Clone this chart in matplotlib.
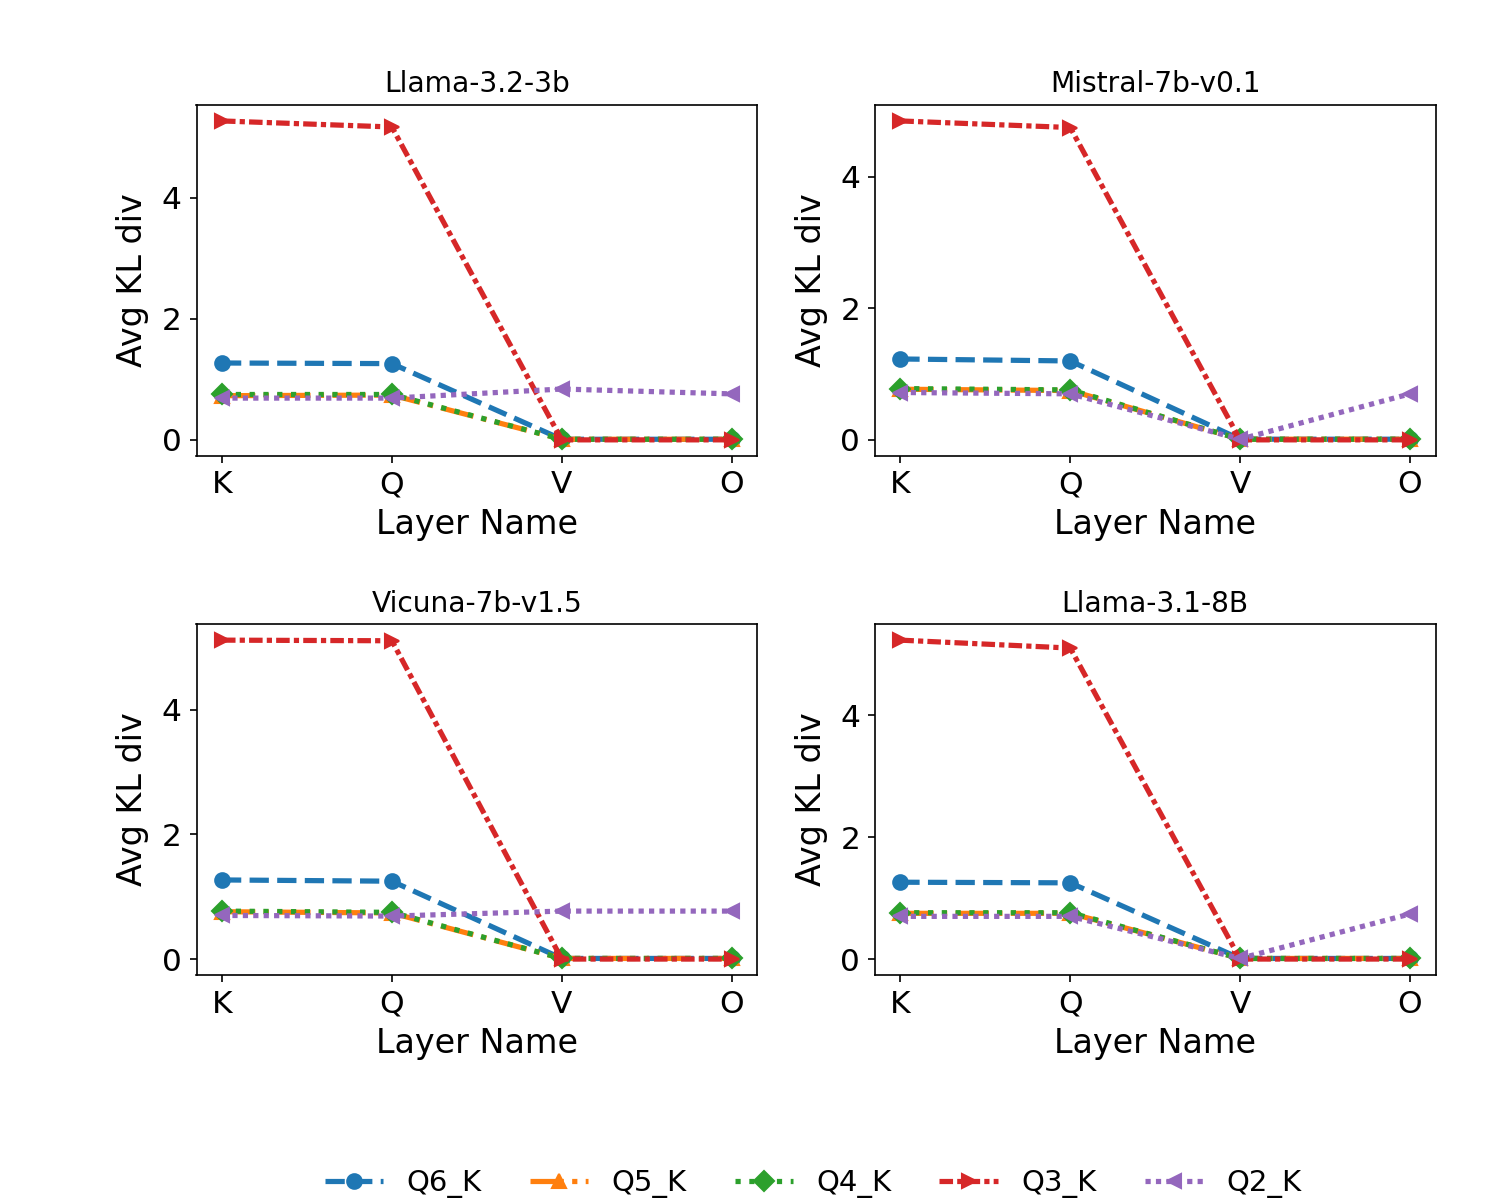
import numpy as np
import matplotlib.pyplot as plt

layers = ['K', 'Q', 'V', 'O']
modelos = ['Llama-3.2-3b', 'Mistral-7b-v0.1', 'Vicuna-7b-v1.5', 'Llama-3.1-8B']
quants = ['Q6_K', 'Q5_K', 'Q4_K', 'Q3_K', 'Q2_K']

# Avg KL div por modelo, una lista por cuantizacion (K, Q, V, O)
llama32_3b = [
    [1.27, 1.26, 0.01, 0.01],
    [0.73, 0.74, 0.01, 0.01],
    [0.75, 0.75, 0.01, 0.01],
    [5.27, 5.17, 0.00, 0.00],
    [0.69, 0.69, 0.84, 0.76],
]
mistral_7b = [
    [1.23, 1.20, 0.01, 0.01],
    [0.77, 0.75, 0.01, 0.01],
    [0.78, 0.76, 0.01, 0.01],
    [4.85, 4.75, 0.00, 0.00],
    [0.72, 0.70, 0.01, 0.70],
]
vicuna_7b = [
    [1.27, 1.25, 0.01, 0.01],
    [0.76, 0.74, 0.01, 0.01],
    [0.77, 0.75, 0.01, 0.01],
    [5.12, 5.11, 0.00, 0.00],
    [0.70, 0.69, 0.77, 0.77],
]
llama31_8b = [
    [1.26, 1.25, 0.01, 0.01],
    [0.75, 0.75, 0.01, 0.01],
    [0.76, 0.76, 0.01, 0.01],
    [5.23, 5.10, 0.00, 0.00],
    [0.70, 0.70, 0.01, 0.74],
]
datos = [llama32_3b, mistral_7b, vicuna_7b, llama31_8b]

colores = ['#1f77b4', '#ff7f0e', '#2ca02c', '#d62728', '#9467bd']
marcadores = ['o', '^', 'D', '>', '<']
estilos = ['--', '-.', ':', (0, (2.6, 0.8, 1, 0.8)), (0, (1, 1))]

fig = plt.figure(figsize=(10, 8), dpi=150)
gs = fig.add_gridspec(2, 2, left=0.131, right=0.957, top=0.9125, bottom=0.1875,
                      wspace=0.21, hspace=0.48)

for idx, (modelo, valores) in enumerate(zip(modelos, datos)):
    ax = fig.add_subplot(gs[idx // 2, idx % 2])
    x = np.arange(len(layers))
    for q, serie in enumerate(valores):
        ax.plot(x, serie, label=quants[q], color=colores[q], marker=marcadores[q],
                linestyle=estilos[q], linewidth=2.5, markersize=7)
    ax.set_xticks(x)
    ax.set_xticklabels(layers)
    ax.set_title(modelo, fontsize=13.5)
    ax.set_xlabel('Layer Name', fontsize=16)
    ax.set_ylabel('Avg KL div', fontsize=16, labelpad=6)
    ax.tick_params(labelsize=15)
    ax.set_yticks([0, 2, 4])

handles, labels = ax.get_legend_handles_labels()
fig.legend(handles, labels, loc='lower center', ncol=5, frameon=False,
           fontsize=14, bbox_to_anchor=(0.542, -0.02), columnspacing=1.65)

plt.savefig('out.png')
plt.close()
